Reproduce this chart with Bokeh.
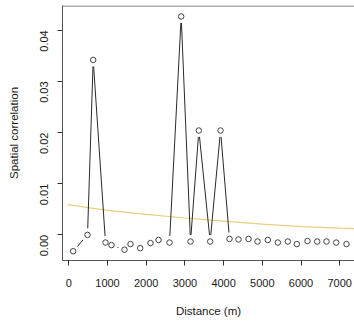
import math
from bokeh.plotting import figure
from bokeh.models import FixedTicker, NumeralTickFormatter, Span, ColumnDataSource, Range1d
from bokeh.embed import file_html
from bokeh.resources import INLINE

# data
distance = [113, 483, 630, 948, 1103, 1439, 1594, 1845, 2111, 2318, 2602, 2904, 3145,
            3360, 3653, 3920, 4152, 4385, 4643, 4876, 5142, 5401, 5659, 5892, 6168,
            6418, 6659, 6910, 7176]
correlation = [-0.0032, 0.0000, 0.0342, -0.0015, -0.0020, -0.0029, -0.0018, -0.0026,
               -0.0016, -0.0010, -0.0015, 0.0427, -0.0013, 0.0204, -0.0013, 0.0204,
               -0.0008, -0.0009, -0.0008, -0.0013, -0.0010, -0.0015, -0.0013, -0.0018,
               -0.0012, -0.0013, -0.0013, -0.0015, -0.0018]
curve_x = [-30, 1000, 2000, 3000, 4000, 5000, 6000, 7000, 7400]
curve_y = [0.0059, 0.0048, 0.0040, 0.0033, 0.0027, 0.0021, 0.0016, 0.0013, 0.0012]
x_ticks = [0, 1000, 2000, 3000, 4000, 5000, 6000, 7000]
y_ticks = [0.00, 0.01, 0.02, 0.03, 0.04]

FONT = "Liberation Sans"
TXT = "#1a1a1a"
FRAME = "#555555"

p = figure(width=354, height=325, output_backend="svg", toolbar_location=None,
           x_range=Range1d(-163, 7382), y_range=Range1d(-0.00501, 0.04484),
           min_border_left=62, min_border_right=0, min_border_top=5, min_border_bottom=65)
p.outline_line_color = None
p.xgrid.visible = False
p.ygrid.visible = False
p.background_fill_color = "white"

# fitted curve
p.line(curve_x, curve_y, line_color="#e8cf7e", line_width=1.2)

src = ColumnDataSource(dict(x=distance, y=correlation))
p.line("x", "y", source=src, line_color="#2a2a2a", line_width=1)
# gaps around points (R type="b")
p.scatter("x", "y", source=src, size=13, fill_color="white", line_color=None)
p.scatter("x", "y", source=src, marker="circle", size=5.5, fill_color=None,
          line_color="#444444", line_width=1)

# top frame line
p.add_layout(Span(location=0.04474, dimension="width", line_color=FRAME, line_width=1))

for ax in (p.xaxis[0], p.yaxis[0]):
    ax.axis_line_color = FRAME
    ax.major_tick_line_color = "#333333"
    ax.major_tick_out = 5
    ax.major_tick_in = 0
    ax.minor_tick_line_color = None
    ax.major_label_text_font = FONT
    ax.major_label_text_font_size = "11px"
    ax.major_label_text_color = TXT
    ax.axis_label_text_font = FONT
    ax.axis_label_text_font_size = "11.5px"
    ax.axis_label_text_font_style = "normal"
    ax.axis_label_text_color = TXT

p.xaxis.ticker = FixedTicker(ticks=x_ticks)
p.yaxis.ticker = FixedTicker(ticks=y_ticks)
p.yaxis.formatter = NumeralTickFormatter(format="0.00")
p.yaxis.major_label_orientation = math.pi / 2
p.xaxis.axis_label = "Distance (m)"
p.yaxis.axis_label = "Spatial correlation"
p.xaxis.major_label_standoff = 13
p.xaxis.axis_label_standoff = 15
p.yaxis.major_label_standoff = 13
p.yaxis.axis_label_standoff = 14

open("out.html", "w").write(file_html(p, INLINE))
